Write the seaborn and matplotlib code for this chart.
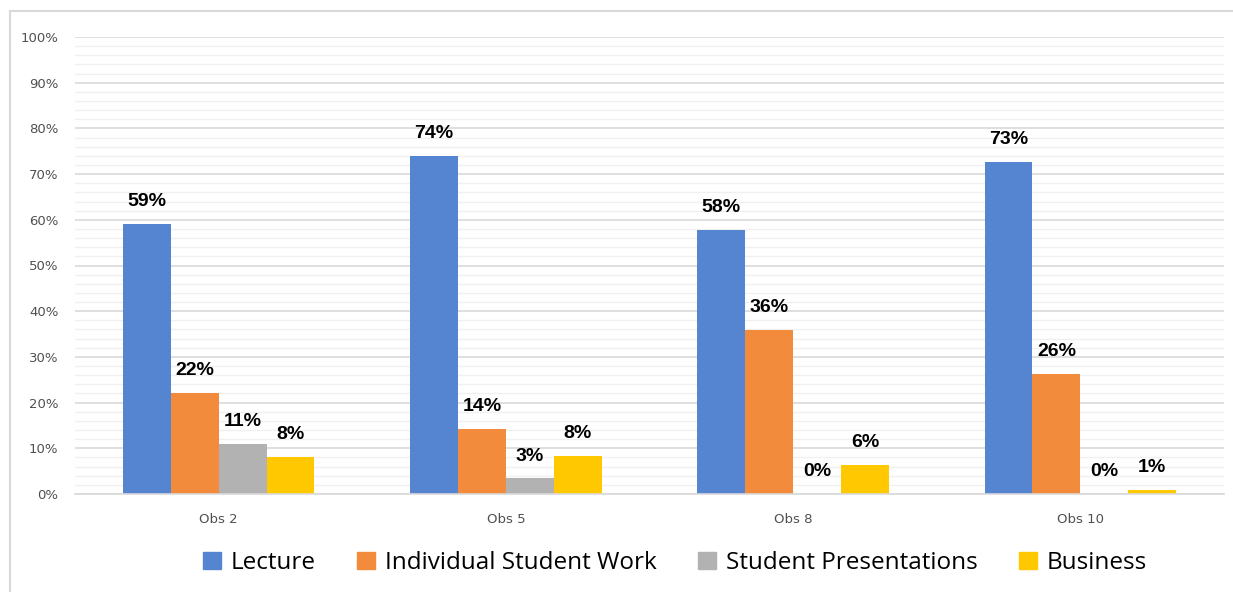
import matplotlib
matplotlib.use("Agg")
import matplotlib.pyplot as plt
import seaborn as sns
import pandas as pd
from matplotlib.patches import Rectangle
from matplotlib.ticker import MultipleLocator, FuncFormatter

observations = ["Obs 2", "Obs 5", "Obs 8", "Obs 10"]
series = ["Lecture", "Individual Student Work", "Student Presentations", "Business"]
lecture = [59.0, 74.0, 57.8, 72.6]
individual = [22.1, 14.2, 35.9, 26.3]
presentations = [10.9, 3.4, 0.0, 0.0]
business = [8.1, 8.4, 6.3, 0.9]
colors = ["#5585D1", "#F28B3C", "#B2B2B2", "#FFC800"]

rows = []
for name, vals in zip(series, [lecture, individual, presentations, business]):
    for obs, v in zip(observations, vals):
        rows.append({"obs": obs, "series": name, "value": v})
df = pd.DataFrame(rows)

sns.set_theme(style="white")
plt.rcParams['font.family'] = ['DejaVu Sans']

fig = plt.figure(figsize=(12.33, 5.92), dpi=100)
ax = fig.add_axes([75/1233, 1-494/592, (1224-75)/1233, (494-37)/592])

sns.barplot(data=df, x="obs", y="value", hue="series", order=observations,
            hue_order=series, palette=colors, width=0.667, saturation=1,
            legend=False, ax=ax, errorbar=None, linewidth=0)

ax.set_ylim(0, 100)
ax.set_xlim(-0.5, 3.5)
ax.yaxis.set_major_locator(MultipleLocator(10))
ax.yaxis.set_minor_locator(MultipleLocator(2))
ax.yaxis.set_major_formatter(FuncFormatter(lambda v, p: f"{int(v)}%"))
ax.grid(which="minor", axis="y", color="#f0f0f0", linewidth=1.0, zorder=0)
ax.grid(which="major", axis="y", color="#d9d9d9", linewidth=1.2, zorder=0)
ax.set_axisbelow(True)
for s in ["top", "right", "left"]:
    ax.spines[s].set_visible(False)
ax.spines["bottom"].set_color("#d9d9d9")
ax.spines["bottom"].set_linewidth(1.2)
ax.tick_params(axis="both", which="both", length=0, labelsize=9.5, colors="#505050")
ax.tick_params(axis="x", pad=14)
ax.tick_params(axis="y", pad=12)
ax.set_xlabel("")
ax.set_ylabel("")

label_font = ['Liberation Sans Narrow', 'Liberation Sans', 'DejaVu Sans']
for cont in ax.containers:
    labels = [f"{round(b.get_height()):d}%" for b in cont]
    ax.bar_label(cont, labels=labels, padding=10, fontsize=14, fontweight="bold",
                 family=label_font, color="black")

handles = [Rectangle((0, 0), 1, 1, color=c) for c in colors]
leg = fig.legend(handles, series, loc="center", bbox_to_anchor=(675/1233, 1-563/592),
                 ncol=4, frameon=False, handlelength=0.75, handleheight=0.75,
                 handletextpad=0.4, columnspacing=1.7,
                 prop={"family": ["Open Sans", "DejaVu Sans"], "size": 17.5})
for t in leg.get_texts():
    t.set_color("black")

fig.patches.append(Rectangle((10/1233, -0.01), 1.1, 1-11/592 + 0.01, transform=fig.transFigure,
                             fill=False, edgecolor="#d9d9d9", linewidth=1.5))

fig.savefig("out.png", dpi=100)
